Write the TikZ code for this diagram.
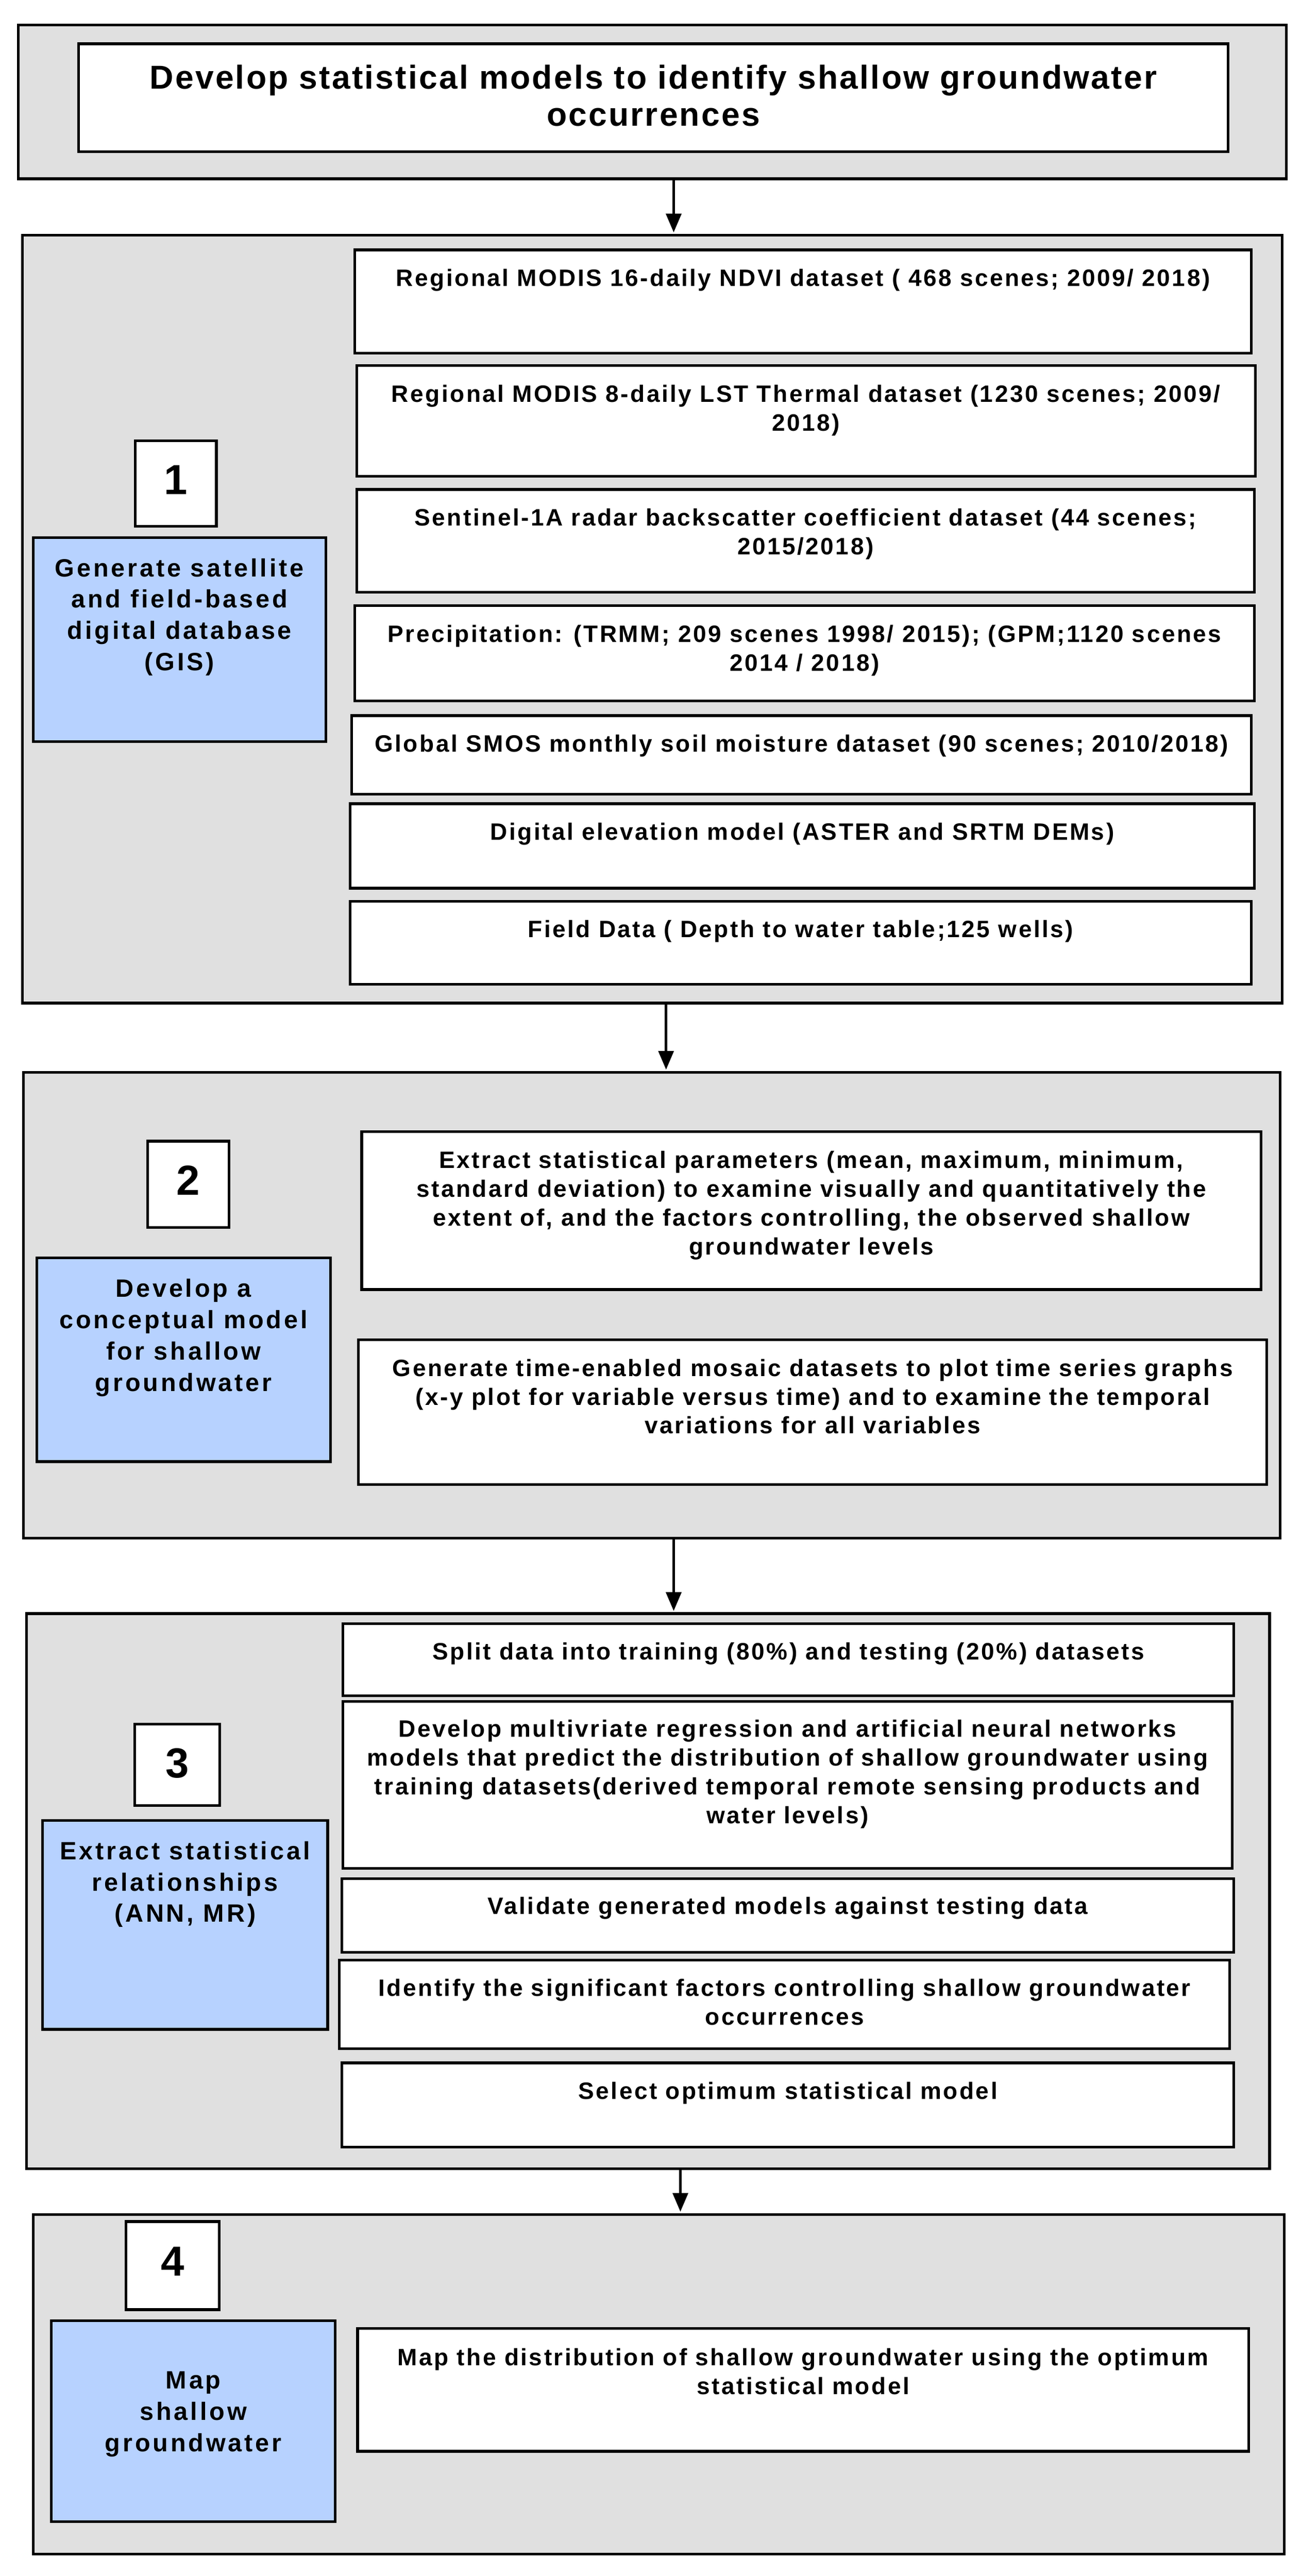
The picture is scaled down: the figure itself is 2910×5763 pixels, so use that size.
\documentclass[tikz,border=0pt]{standalone}
\usepackage{fontspec}
\usetikzlibrary{arrows.meta,fit}
\newfontfamily\bxfamily{Liberation Sans}[LetterSpace=7.6]
\newfontfamily\ttlfamily{Liberation Sans}[LetterSpace=5.0]
\newfontfamily\blfamily{Liberation Sans}[LetterSpace=10.0]
\newfontfamily\numfamily{Liberation Sans}
\definecolor{panelgray}{RGB}{224,224,224}
\definecolor{stepblue}{RGB}{183,210,255}
\newcommand\fst{\rule{0pt}{0.8em}}
\newcommand\bxfont{\bxfamily\bfseries\fontsize{53}{64.5}\selectfont}
\newcommand\ttlfont{\ttlfamily\bfseries\fontsize{74}{83}\selectfont}
\newcommand\blfont{\blfamily\bfseries\fontsize{56}{70}\selectfont}
\newcommand\numfont{\numfamily\bfseries\fontsize{94}{100}\selectfont}
\begin{document}
\begin{tikzpicture}[x=1pt,y=-1pt,
  panel/.style={draw=black, line width=6pt, fill=panelgray, inner sep=0pt},
  wbox/.style={draw=black, line width=6pt, fill=white, inner sep=0pt},
  bbox/.style={draw=black, line width=6pt, fill=stepblue, inner sep=0pt},
  bxtext/.style={inner sep=0pt, anchor=north, align=center, font=\bxfont},
  ttltext/.style={inner sep=0pt, anchor=north, align=center, font=\ttlfont},
  bltext/.style={inner sep=0pt, anchor=north, align=center, font=\blfont},
  numtext/.style={inner sep=0pt, anchor=base, font=\numfont},
  arr/.style={line width=6pt, -{Triangle[length=42pt,width=34pt]}, shorten >=3pt}]
\useasboundingbox (0,0) rectangle (2910,5763);

% ---------- panel 0 : title ----------
\node[panel, fit={(41,56) (2877,400)}] (p0) {};
\node[wbox, fit={(176,98) (2747,339)}] (title) {};
\node[ttltext] (titlet) at ([yshift=-44pt]title.north) {\fst Develop statistical models to identify shallow groundwater\\occurrences};

% ---------- panel 1 ----------
\node[panel, fit={(50,526) (2868,2244)}] (p1) {};
\node[wbox, fit={(794,559) (2799,790)}] (ndvi) {};
\node[wbox, fit={(798,818) (2808,1066)}] (lst) {};
\node[wbox, fit={(798,1095) (2806,1325)}] (sent) {};
\node[wbox, fit={(794,1355) (2806,1568)}] (prec) {};
\node[wbox, fit={(787,1601) (2799,1777)}] (smos) {};
\node[wbox, fit={(783,1798) (2806,1987)}] (dem) {};
\node[wbox, fit={(783,2016) (2799,2202)}] (field) {};
\node[wbox, fit={(303,986) (484,1177)}] (num1) {};
\node[bbox, fit={(74,1203) (729,1659)}] (blue1) {};

\node[bxtext] (ndvit) at ([yshift=-42pt]ndvi.north) {\fst Regional MODIS 16-daily NDVI dataset ( 468 scenes; 2009/ 2018)};
\node[bxtext] (lstt) at ([yshift=-42pt]lst.north) {\fst Regional MODIS 8-daily LST Thermal dataset (1230 scenes; 2009/\\2018)};
\node[bxtext] (sentt) at ([yshift=-42pt]sent.north) {\fst Sentinel-1A radar backscatter coefficient dataset (44 scenes;\\2015/2018)};
\node[bxtext] (prect) at ([yshift=-42pt]prec.north) {\fst Precipitation: (TRMM; 209 scenes 1998/ 2015); (GPM;1120 scenes\\2014 / 2018)};
\node[bxtext] (smost) at ([yshift=-42pt]smos.north) {\fst Global SMOS monthly soil moisture dataset (90 scenes; 2010/2018)};
\node[bxtext] (demt) at ([yshift=-42pt]dem.north) {\fst Digital elevation model (ASTER and SRTM DEMs)};
\node[bxtext] (fieldt) at ([yshift=-42pt]field.north) {\fst Field Data ( Depth to water table;125 wells)};
\node[numtext] (num1t) at ([yshift=-123pt]num1.north) {1};
\node[bltext] (blue1t) at ([yshift=-45pt]blue1.north) {\fst Generate satellite\\and field-based\\digital database\\(GIS)};

% ---------- panel 2 ----------
\node[panel, fit={(52,2399) (2864,3441)}] (p2) {};
\node[wbox, fit={(809,2532) (2821,2885)}] (extr) {};
\node[wbox, fit={(802,2997) (2834,3321)}] (gen) {};
\node[wbox, fit={(330,2553) (512,2746)}] (num2) {};
\node[bbox, fit={(82,2814) (739,3270)}] (blue2) {};

\node[bxtext] (extrt) at ([yshift=-42pt]extr.north) {\fst Extract statistical parameters (mean, maximum, minimum,\\standard deviation) to examine visually and quantitatively the\\extent of, and the factors controlling, the observed shallow\\groundwater levels};
\node[bxtext] (gent) at ([yshift=-42pt]gen.north) {\fst Generate time-enabled mosaic datasets to plot time series graphs\\(x-y plot for variable versus time) and to examine the temporal\\variations for all variables};
\node[numtext] (num2t) at ([yshift=-123pt]num2.north) {2};
\node[bltext] (blue2t) at ([yshift=-46pt]blue2.north) {\fst Develop a\\conceptual model\\for shallow\\groundwater};

% ---------- panel 3 ----------
\node[panel, fit={(59,3610) (2840,4852)}] (p3) {};
\node[wbox, fit={(767,3632) (2760,3794)}] (split) {};
\node[wbox, fit={(767,3806) (2756,4180)}] (devm) {};
\node[wbox, fit={(765,4203) (2760,4368)}] (valid) {};
\node[wbox, fit={(759,4385) (2751,4583)}] (ident) {};
\node[wbox, fit={(765,4615) (2760,4803)}] (sel) {};
\node[wbox, fit={(301,3857) (492,4039)}] (num3) {};
\node[bbox, fit={(95,4073) (733,4540)}] (blue3) {};

\node[bxtext] (splitt) at ([yshift=-42pt]split.north) {\fst Split data into training (80\%) and testing (20\%) datasets};
\node[bxtext] (devmt) at ([yshift=-40pt]devm.north) {\fst Develop multivriate regression and artificial neural networks\\models that predict the distribution of shallow groundwater using\\training datasets(derived temporal remote sensing products and\\water levels)};
\node[bxtext] (validt) at ([yshift=-40pt]valid.north) {\fst Validate generated models against testing data};
\node[bxtext] (identt) at ([yshift=-41pt]ident.north) {\fst Identify the significant factors controlling shallow groundwater\\occurrences};
\node[bxtext] (selt) at ([yshift=-42pt]sel.north) {\fst Select optimum statistical model};
\node[numtext] (num3t) at ([yshift=-123pt]num3.north) {3};
\node[bltext] (blue3t) at ([yshift=-45pt]blue3.north) {\fst Extract statistical\\relationships\\(ANN, MR)};

% ---------- panel 4 ----------
\node[panel, fit={(74,4954) (2873,5714)}] (p4) {};
\node[wbox, fit={(800,5209) (2793,5484)}] (mapb) {};
\node[wbox, fit={(282,4970) (490,5167)}] (num4) {};
\node[bbox, fit={(115,5192) (750,5641)}] (blue4) {};

\node[bxtext] (mapt) at ([yshift=-43pt]mapb.north) {\fst Map the distribution of shallow groundwater using the optimum\\statistical model};
\node[numtext] (num4t) at ([yshift=-124pt]num4.north) {4};
\node[bltext] (blue4t) at ([yshift=-110pt]blue4.north) {\fst Map\\shallow\\groundwater};

% ---------- connectors ----------
\draw[arr] (p0.south -| 1507,0) -- (p1.north -| 1507,0);
\draw[arr] (p1.south -| 1490,0) -- (p2.north -| 1490,0);
\draw[arr] (p2.south -| 1507,0) -- (p3.north -| 1507,0);
\draw[arr] (p3.south -| 1522,0) -- (p4.north -| 1522,0);
\end{tikzpicture}
\end{document}
